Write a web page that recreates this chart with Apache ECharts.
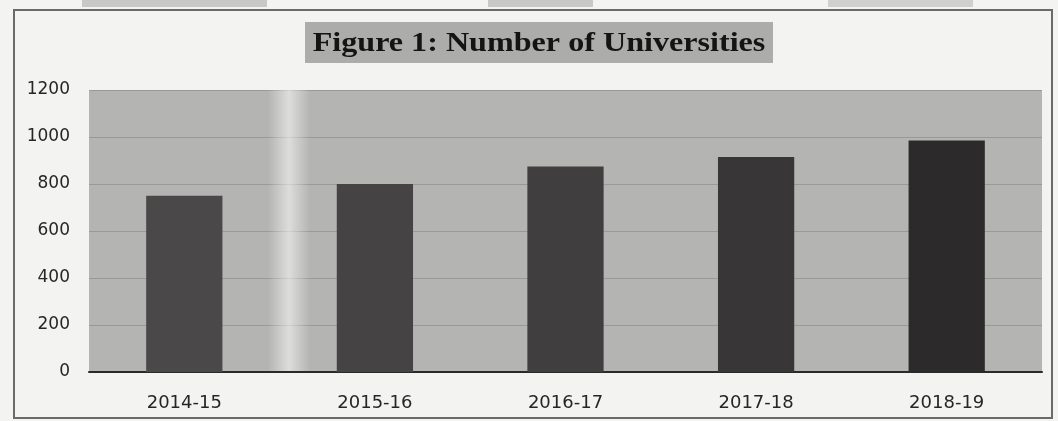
<!DOCTYPE html>
<html>
<head>
<meta charset="utf-8">
<script src="https://cdn.jsdelivr.net/npm/echarts@6/dist/echarts.min.js"></script>
<style>
  html, body { margin: 0; padding: 0; background: #f3f3f1; }
  #chart { width: 1058px; height: 421px; }
</style>
</head>
<body>
<div id="chart"></div>
<script>
// Number of universities per academic year
const years = ['2014-15', '2015-16', '2016-17', '2017-18', '2018-19'];
const universities = [750, 800, 875, 915, 985];
const yTicks = [0, 200, 400, 600, 800, 1000, 1200];
const titleText = 'Figure 1: Number of Universities';

const chart = echarts.init(document.getElementById('chart'));

const barShades = ['#4a4848', '#454343', '#403e3e', '#383636', '#2c2a2a'];

chart.setOption({
  backgroundColor: '#f3f3f1',
  animation: false,
  grid: {
    left: 89,
    right: 16,
    top: 90,
    bottom: 49,
    show: true,
    backgroundColor: '#b4b4b2',
    borderWidth: 0
  },
  xAxis: {
    type: 'category',
    data: years,
    axisTick: { show: false },
    axisLine: { lineStyle: { color: '#2a2a2a', width: 2 } },
    axisLabel: {
      color: '#262626',
      fontFamily: 'DejaVu Sans',
      fontSize: 18,
      margin: 22
    }
  },
  yAxis: {
    type: 'value',
    min: yTicks[0],
    max: yTicks[yTicks.length - 1],
    interval: 200,
    axisLine: { show: false },
    axisTick: { show: false },
    axisLabel: {
      color: '#262626',
      fontFamily: 'DejaVu Sans',
      fontSize: 17,
      margin: 19,
      formatter: v => String(v)
    },
    splitLine: { lineStyle: { color: 'rgba(60,60,60,0.22)', width: 1 } }
  },
  series: [{
    type: 'bar',
    data: universities.map((v, i) => ({ value: v, itemStyle: { color: barShades[i] } })),
    barWidth: '40%',
    z: 3
  }],
  graphic: [
    // outer frame around the figure
    {
      type: 'rect',
      shape: { x: 14, y: 10, width: 1038, height: 408 },
      style: { fill: 'none', stroke: '#6a6a6a', lineWidth: 2 },
      silent: true
    },
    // title with shaded box
    {
      type: 'rect',
      shape: { x: 305, y: 22, width: 468, height: 41 },
      style: { fill: '#acacaa' },
      silent: true
    },
    {
      type: 'text',
      x: 539,
      y: 44,
      scaleX: 1.19,
      style: {
        text: titleText,
        x: 0,
        y: 0,
        align: 'center',
        verticalAlign: 'middle',
        fontFamily: 'Liberation Serif',
        fontWeight: 'bold',
        fontSize: 27,
        fill: '#141414'
      },
      silent: true
    },
    // pale vertical band across the plot background
    {
      type: 'rect',
      shape: { x: 268, y: 90, width: 42, height: 281 },
      style: {
        fill: new echarts.graphic.LinearGradient(0, 0, 1, 0, [
          { offset: 0, color: 'rgba(255,255,255,0)' },
          { offset: 0.5, color: 'rgba(255,255,255,0.55)' },
          { offset: 1, color: 'rgba(255,255,255,0)' }
        ])
      },
      z: 1,
      silent: true
    },
    // faint grey patches along the upper edge
    { type: 'rect', shape: { x: 82, y: 0, width: 185, height: 7 }, style: { fill: '#c8c8c6' }, silent: true },
    { type: 'rect', shape: { x: 488, y: 0, width: 105, height: 7 }, style: { fill: '#c8c8c6' }, silent: true },
    { type: 'rect', shape: { x: 828, y: 0, width: 145, height: 7 }, style: { fill: '#d0d0ce' }, silent: true }
  ]
});
</script>
</body>
</html>
